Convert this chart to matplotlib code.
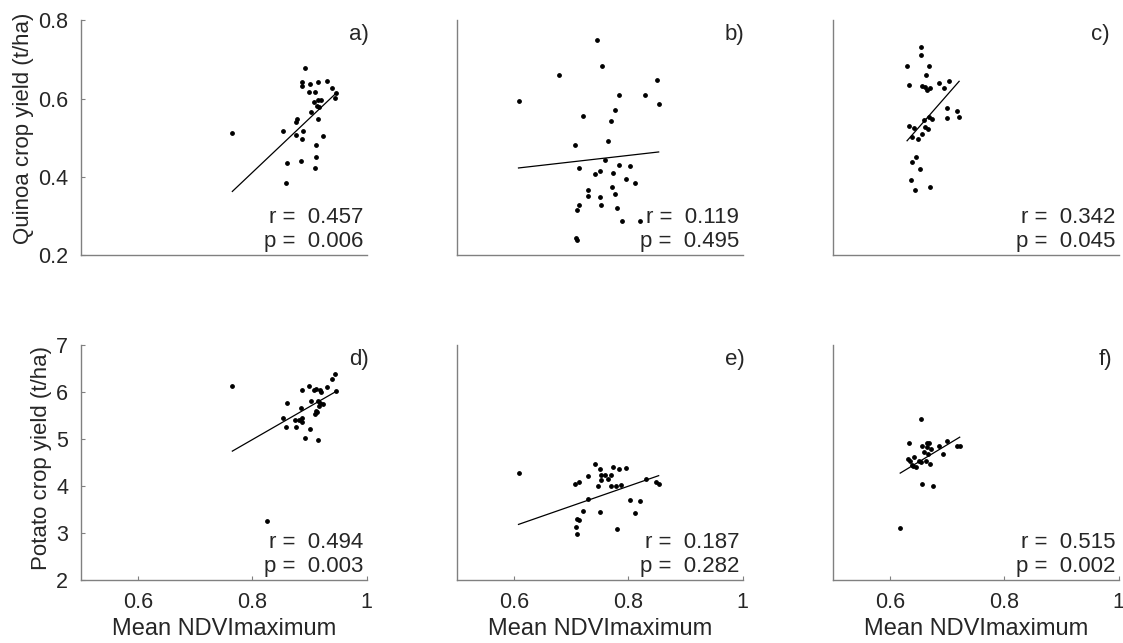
import numpy as np
import matplotlib.pyplot as plt

plt.rcParams['font.family'] = ['Liberation Sans', 'DejaVu Sans']

# NDVI maximum (x) and crop yield (y)
a_x = [0.765, 0.892, 0.886, 0.886, 0.900, 0.915, 0.930, 0.899, 0.910, 0.939, 0.947,
       0.945, 0.908, 0.914, 0.920, 0.913, 0.917, 0.902, 0.878, 0.876, 0.914, 0.853,
       0.888, 0.876, 0.886, 0.924, 0.911, 0.912, 0.861, 0.885, 0.910, 0.858]
a_y = [0.512, 0.677, 0.643, 0.631, 0.636, 0.642, 0.646, 0.617, 0.616, 0.626, 0.614,
       0.601, 0.592, 0.596, 0.596, 0.582, 0.579, 0.566, 0.548, 0.540, 0.548, 0.517,
       0.516, 0.506, 0.497, 0.503, 0.482, 0.450, 0.435, 0.440, 0.422, 0.385]

b_x = [0.608, 0.746, 0.754, 0.679, 0.850, 0.783, 0.829, 0.853, 0.776, 0.720, 0.769,
       0.706, 0.765, 0.759, 0.713, 0.783, 0.803, 0.751, 0.741, 0.774, 0.796, 0.811,
       0.730, 0.730, 0.751, 0.771, 0.776, 0.713, 0.711, 0.753, 0.781, 0.789, 0.821,
       0.709, 0.711]
b_y = [0.595, 0.749, 0.683, 0.661, 0.647, 0.610, 0.609, 0.586, 0.571, 0.556, 0.543,
       0.480, 0.491, 0.442, 0.423, 0.429, 0.427, 0.414, 0.406, 0.409, 0.395, 0.385,
       0.366, 0.351, 0.349, 0.374, 0.355, 0.328, 0.314, 0.329, 0.321, 0.288, 0.288,
       0.243, 0.238]

c_x = [0.655, 0.654, 0.630, 0.668, 0.663, 0.633, 0.656, 0.662, 0.665, 0.670, 0.685,
       0.704, 0.694, 0.699, 0.718, 0.721, 0.699, 0.660, 0.669, 0.673, 0.633, 0.642,
       0.661, 0.666, 0.638, 0.649, 0.656, 0.646, 0.639, 0.653, 0.636, 0.670, 0.644]
c_y = [0.731, 0.712, 0.682, 0.682, 0.660, 0.634, 0.631, 0.630, 0.623, 0.626, 0.640,
       0.645, 0.626, 0.576, 0.567, 0.554, 0.550, 0.546, 0.553, 0.547, 0.531, 0.524,
       0.527, 0.521, 0.502, 0.497, 0.509, 0.451, 0.439, 0.419, 0.393, 0.374, 0.366]

d_x = [0.765, 0.945, 0.939, 0.930, 0.899, 0.887, 0.908, 0.912, 0.919, 0.920, 0.947,
       0.861, 0.903, 0.914, 0.918, 0.924, 0.917, 0.885, 0.911, 0.910, 0.913, 0.853,
       0.886, 0.875, 0.881, 0.887, 0.858, 0.876, 0.900, 0.892, 0.914, 0.825]
d_y = [6.128, 6.390, 6.277, 6.106, 6.142, 6.043, 6.057, 6.064, 6.057, 6.007, 6.021,
       5.766, 5.823, 5.816, 5.773, 5.759, 5.716, 5.674, 5.603, 5.546, 5.574, 5.454,
       5.461, 5.404, 5.404, 5.369, 5.262, 5.262, 5.220, 5.035, 4.986, 3.248]

e_x = [0.608, 0.741, 0.751, 0.774, 0.783, 0.796, 0.730, 0.753, 0.759, 0.770, 0.752,
       0.765, 0.830, 0.706, 0.713, 0.747, 0.769, 0.778, 0.788, 0.849, 0.853, 0.730,
       0.803, 0.821, 0.720, 0.751, 0.811, 0.710, 0.713, 0.709, 0.710, 0.781]
e_y = [4.270, 4.468, 4.355, 4.397, 4.362, 4.383, 4.206, 4.227, 4.241, 4.227, 4.135,
       4.142, 4.149, 4.043, 4.078, 3.993, 4.007, 4.007, 4.021, 4.085, 4.036, 3.723,
       3.702, 3.688, 3.475, 3.447, 3.433, 3.305, 3.277, 3.121, 2.972, 3.092]

f_x = [0.655, 0.634, 0.656, 0.664, 0.668, 0.664, 0.671, 0.686, 0.699, 0.718, 0.722,
       0.693, 0.660, 0.666, 0.631, 0.642, 0.635, 0.638, 0.646, 0.650, 0.655, 0.663,
       0.670, 0.640, 0.656, 0.675, 0.618]
f_y = [5.433, 4.922, 4.851, 4.929, 4.922, 4.837, 4.801, 4.844, 4.957, 4.865, 4.865,
       4.681, 4.716, 4.688, 4.567, 4.610, 4.539, 4.454, 4.404, 4.525, 4.504, 4.525,
       4.475, 4.433, 4.050, 4.007, 3.099]

# regression lines as drawn in the figure
slopes = [1.385, 0.167, 1.670, 7.011, 4.240, 7.359]
intercepts = [-0.697, 0.321, -0.560, -0.618, 0.606, -0.271]

r_vals = ['0.457', '0.119', '0.342', '0.494', '0.187', '0.515']
p_vals = ['0.006', '0.495', '0.045', '0.003', '0.282', '0.002']
panel_labels = ['a)', 'b)', 'c)', 'd)', 'e)', 'f)']
label_x = [0.937, 0.937, 0.902, 0.937, 0.937, 0.930]
ylabels = ['Quinoa crop yield (t/ha)', 'Potato crop yield (t/ha)']
ylabel_y = [0.54, 0.52]

xs = [a_x, b_x, c_x, d_x, e_x, f_x]
ys = [a_y, b_y, c_y, d_y, e_y, f_y]

txt = '#262626'
axc = '#808080'

fig = plt.figure(figsize=(11.23, 6.43), dpi=100)
lefts = [0.0719, 0.4067, 0.7415]
bottoms = [0.6034, 0.098]
w, h = 0.2547, 0.3650

for i in range(6):
    row, col = divmod(i, 3)
    ax = fig.add_axes([lefts[col], bottoms[row], w, h])
    x = np.array(xs[i])
    y = np.array(ys[i])
    ax.scatter(x, y, s=6, color='black', zorder=3)
    lx = np.array([x.min(), x.max()])
    ax.plot(lx, slopes[i] * lx + intercepts[i], color='black', lw=0.9)

    for s in ['top', 'right']:
        ax.spines[s].set_visible(False)
    for s in ['left', 'bottom']:
        ax.spines[s].set_color(axc)
        ax.spines[s].set_linewidth(1.0)
    ax.tick_params(direction='in', length=3, color=axc, labelcolor=txt, labelsize=15.5, pad=9)

    ax.set_xlim(0.5, 1.0)
    ax.set_xticks([0.6, 0.8, 1.0])
    if row == 0:
        ax.set_ylim(0.2, 0.8)
        ax.set_yticks([0.2, 0.4, 0.6, 0.8])
        ax.set_xticklabels([])
        ax.tick_params(axis='x', length=0)
    else:
        ax.set_ylim(2, 7)
        ax.set_yticks([2, 3, 4, 5, 6, 7])
        ax.set_xticklabels(['0.6', '0.8', '1'])
        ax.set_xlabel('Mean NDVImaximum', fontsize=17, color=txt, labelpad=3)
    if col == 0:
        ax.set_ylabel(ylabels[row], fontsize=16, color=txt, labelpad=3)
        ax.yaxis.label.set_y(ylabel_y[row])
    else:
        ax.set_yticklabels([])
        ax.tick_params(axis='y', length=0)

    ax.text(label_x[i], 0.94, panel_labels[i], transform=ax.transAxes,
            ha='left', va='center', fontsize=16, color=txt)
    ax.text(0.988, 0.137, 'r =  ' + r_vals[i], transform=ax.transAxes,
            ha='right', va='baseline', fontsize=16, color=txt)
    ax.text(0.988, 0.034, 'p =  ' + p_vals[i], transform=ax.transAxes,
            ha='right', va='baseline', fontsize=16, color=txt)

fig.savefig('out.png', dpi=100)
